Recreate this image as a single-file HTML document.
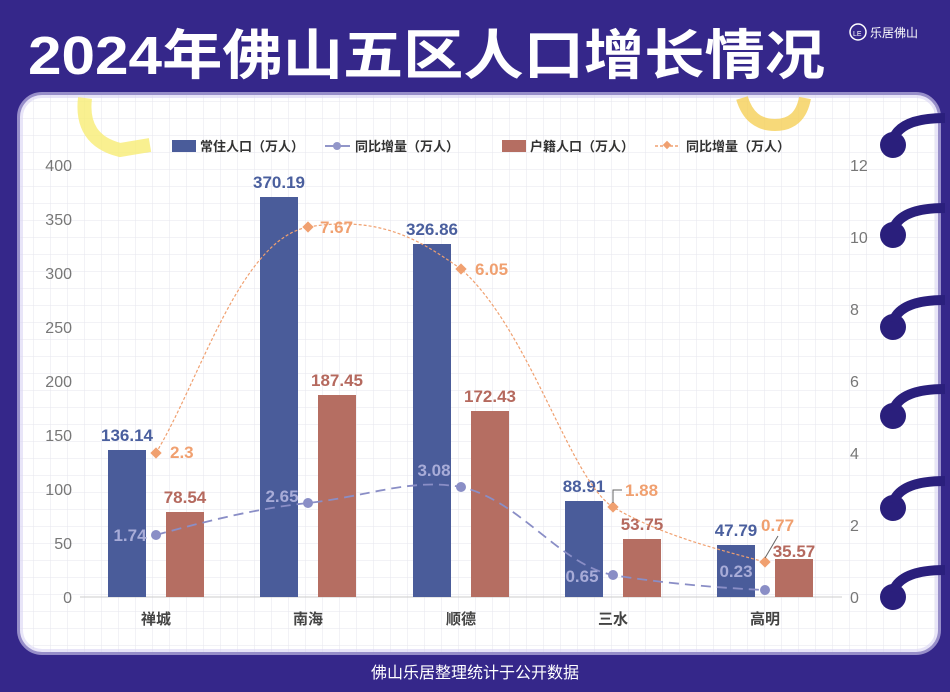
<!DOCTYPE html><html><head><meta charset="utf-8"><style>
body{margin:0;width:950px;height:692px;overflow:hidden;background:#35278a;font-family:"Liberation Sans","Noto Sans CJK SC",sans-serif}
</style></head><body>
<svg width="950" height="692" xmlns="http://www.w3.org/2000/svg" style="position:absolute;left:0;top:0">
<defs>
<pattern id="g" width="17" height="17" patternUnits="userSpaceOnUse"><path d="M17 0V17H0" fill="none" stroke="#e6e6ee" stroke-width="1"/></pattern>
</defs>
<rect width="950" height="692" fill="#35278a"/>
<text x="28" y="74" font-size="54" font-weight="bold" fill="#fff" textLength="797" lengthAdjust="spacingAndGlyphs" font-family="Liberation Sans,Noto Sans CJK SC,sans-serif">2024年佛山五区人口增长情况</text>
<circle cx="858" cy="32" r="8" fill="none" stroke="#fff" stroke-width="1.5"/><text x="853" y="36" font-size="7" fill="#fff">LE</text>
<text x="870" y="37" font-size="12" fill="#fff">乐居佛山</text>
<rect x="20" y="95" width="918" height="557" rx="22" fill="#fff"/>
<rect x="20" y="95" width="918" height="557" rx="22" fill="url(#g)"/>
<rect x="20" y="95" width="918" height="557" rx="22" fill="none" stroke="#d8d4f4" stroke-width="6" opacity="0.6"/>
<path d="M85 98 Q80 140 120 150 L150 145" fill="none" stroke="#f7ec74" stroke-width="14" opacity="0.8"/>
<path d="M742 98 Q750 125 775 125 Q800 125 805 98" fill="none" stroke="#f5cf58" stroke-width="12" opacity="0.8"/>
<g fill="#2a1f7c">
<circle cx="893" cy="145" r="13"/><circle cx="893" cy="235" r="13"/><circle cx="893" cy="327" r="13"/><circle cx="893" cy="416" r="13"/><circle cx="893" cy="508" r="13"/><circle cx="893" cy="597" r="13"/>
</g>
<g fill="none" stroke="#2a1f7c" stroke-width="10">
<path d="M893 140 Q900 118 945 118"/><path d="M893 230 Q900 208 945 208"/><path d="M893 322 Q900 300 945 300"/><path d="M893 411 Q900 389 945 389"/><path d="M893 503 Q900 481 945 481"/><path d="M893 592 Q900 570 945 570"/>
</g>
<g font-size="13" font-weight="bold" fill="#333">
<rect x="172" y="140" width="24" height="12" fill="#4a5c9a"/><text x="200" y="151">常住人口（万人）</text>
<line x1="325" y1="146" x2="350" y2="146" stroke="#9296c9" stroke-width="2"/><circle cx="337" cy="146" r="4" fill="#9296c9"/><text x="355" y="151">同比增量（万人）</text>
<rect x="502" y="140" width="24" height="12" fill="#b56e62"/><text x="530" y="151">户籍人口（万人）</text>
<line x1="655" y1="146" x2="680" y2="146" stroke="#f0a070" stroke-width="1.5" stroke-dasharray="3,2"/><rect x="664" y="142" width="6" height="6" transform="rotate(45 667 145)" fill="#f0a070"/><text x="686" y="151">同比增量（万人）</text>
</g>
<g font-size="16" fill="#777" text-anchor="end">
<text x="72" y="171">400</text><text x="72" y="225">350</text><text x="72" y="279">300</text><text x="72" y="333">250</text><text x="72" y="387">200</text><text x="72" y="441">150</text><text x="72" y="495">100</text><text x="72" y="549">50</text><text x="72" y="603">0</text>
</g>
<g font-size="16" fill="#777" text-anchor="start">
<text x="850" y="171">12</text><text x="850" y="243">10</text><text x="850" y="315">8</text><text x="850" y="387">6</text><text x="850" y="459">4</text><text x="850" y="531">2</text><text x="850" y="603">0</text>
</g>
<line x1="80" y1="597" x2="842" y2="597" stroke="#ccc"/>
<g font-size="15" font-weight="bold" fill="#444" text-anchor="middle">
<text x="156" y="624">禅城</text><text x="308" y="624">南海</text><text x="461" y="624">顺德</text><text x="613" y="624">三水</text><text x="765" y="624">高明</text>
</g>
<g fill="#4a5c9a">
<rect x="108" y="450" width="38" height="147"/><rect x="260" y="197" width="38" height="400"/><rect x="413" y="244" width="38" height="353"/><rect x="565" y="501" width="38" height="96"/><rect x="717" y="545" width="38" height="52"/>
</g>
<g fill="#b56e62">
<rect x="166" y="512" width="38" height="85"/><rect x="318" y="395" width="38" height="202"/><rect x="471" y="411" width="38" height="186"/><rect x="623" y="539" width="38" height="58"/><rect x="775" y="559" width="38" height="38"/>
</g>
<g font-size="17" font-weight="bold" text-anchor="middle">
<g fill="#4a5f9e"><text x="127" y="441">136.14</text><text x="279" y="188">370.19</text><text x="432" y="235">326.86</text><text x="584" y="492">88.91</text><text x="736" y="536">47.79</text></g>
<g fill="#b5695e"><text x="185" y="503">78.54</text><text x="337" y="386">187.45</text><text x="490" y="402">172.43</text><text x="642" y="530">53.75</text><text x="794" y="557">35.57</text></g>
</g>
<path d="M156 535 C210 520 260 508 308 503 C370 496 410 478 461 487 C520 500 560 565 613 575 C660 583 720 588 765 590" fill="none" stroke="#8a8ec6" stroke-width="1.8" stroke-dasharray="10,6"/>
<path d="M156 453 C200 380 240 240 308 227 C380 215 420 240 461 269 C530 330 570 480 613 507 C660 535 720 550 765 562" fill="none" stroke="#f0a070" stroke-width="1.2" stroke-dasharray="3,2"/>
<g fill="#8a8ec6"><circle cx="156" cy="535" r="5"/><circle cx="308" cy="503" r="5"/><circle cx="461" cy="487" r="5"/><circle cx="613" cy="575" r="5"/><circle cx="765" cy="590" r="5"/></g>
<g fill="#f0a070"><rect x="152" y="449" width="8" height="8" transform="rotate(45 156 453)"/><rect x="304" y="223" width="8" height="8" transform="rotate(45 308 227)"/><rect x="457" y="265" width="8" height="8" transform="rotate(45 461 269)"/><rect x="609" y="503" width="8" height="8" transform="rotate(45 613 507)"/><rect x="761" y="558" width="8" height="8" transform="rotate(45 765 562)"/></g>
<path d="M613 503 V490 H622" fill="none" stroke="#666"/><path d="M765 558 L778 536" fill="none" stroke="#666"/>
<g font-size="17" font-weight="bold" text-anchor="middle" fill="#a8acd8">
<text x="130" y="541">1.74</text><text x="282" y="502">2.65</text><text x="434" y="476">3.08</text><text x="582" y="582">0.65</text><text x="736" y="577">0.23</text>
</g>
<g font-size="17" font-weight="bold" fill="#f0a070">
<text x="170" y="458">2.3</text><text x="320" y="233">7.67</text><text x="475" y="275">6.05</text><text x="625" y="496">1.88</text><text x="761" y="531">0.77</text>
</g>
<text x="475" y="678" font-size="16" fill="#fff" text-anchor="middle">佛山乐居整理统计于公开数据</text>
</svg>
</body></html>
